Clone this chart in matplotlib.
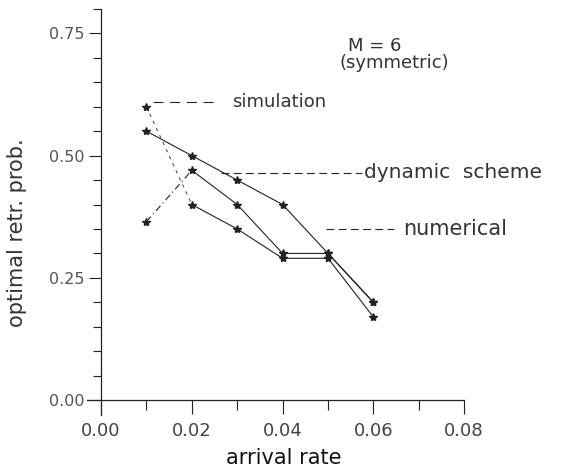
import numpy as np
import matplotlib
matplotlib.use("Agg")
import matplotlib.pyplot as plt
from matplotlib.ticker import MultipleLocator, FixedLocator

# values
rate = [0.01, 0.02, 0.03, 0.04, 0.05, 0.06]
dynamic = [0.55, 0.50, 0.45, 0.40, 0.30, 0.20]
numerical = [0.365, 0.47, 0.40, 0.30, 0.30, 0.20]
simulation = [0.60, 0.40, 0.35, 0.29, 0.29, 0.17]

x_ticks = [0.00, 0.02, 0.04, 0.06, 0.08]
x_ticklabels = ["0.00", "0.02", "0.04", "0.06", "0.08"]
y_ticks = [0.00, 0.25, 0.50, 0.75]
y_ticklabels = ["0.00", "0.25", "0.50", "0.75"]

ink = "#222222"
txt = "#333333"

fig = plt.figure(figsize=(5.64, 4.74), dpi=100)
ax = fig.add_axes([0.155, 0.125, 0.668, 0.856])
ax.set_xlim(-0.003, 0.08)
ax.set_ylim(-0.03, 0.80)

for s in ["top", "right"]:
	ax.spines[s].set_visible(False)
ax.spines["left"].set_position(("data", 0))
ax.spines["bottom"].set_position(("data", 0))
for s in ["left", "bottom"]:
	ax.spines[s].set_linewidth(0.9)
	ax.spines[s].set_color(ink)

ax.xaxis.set_major_locator(FixedLocator(x_ticks))
ax.set_xticklabels(x_ticklabels)
ax.xaxis.set_minor_locator(MultipleLocator(0.01))
ax.yaxis.set_major_locator(FixedLocator(y_ticks))
ax.set_yticklabels(y_ticklabels)
ax.yaxis.set_minor_locator(MultipleLocator(0.05))

ax.tick_params(axis="x", which="major", direction="out", length=10, width=0.8, pad=6,
	labelsize=13, colors=ink, labelcolor="#444444")
ax.tick_params(axis="x", which="minor", direction="out", length=7, width=0.8, colors=ink)
ax.tick_params(axis="y", which="major", direction="out", length=9, width=0.8, pad=3,
	labelsize=11.5, colors=ink, labelcolor="#555555")
ax.tick_params(axis="y", which="minor", direction="out", length=6, width=0.8, colors=ink)

# curves: first segment drawn in its own dash style, rest solid
lw = 0.8
ax.plot(rate, dynamic, color=ink, lw=lw, marker="*", ms=6)
ax.plot(rate[:2], numerical[:2], color=ink, lw=lw, ls=(0, (6, 3, 1, 3)))
ax.plot(rate[1:], numerical[1:], color=ink, lw=lw)
ax.plot(rate, numerical, color=ink, lw=0, marker="*", ms=6)
ax.plot(rate[:2], simulation[:2], color="#555555", lw=lw, ls=(0, (3, 4)))
ax.plot(rate[1:], simulation[1:], color=ink, lw=lw)
ax.plot(rate, simulation, color=ink, lw=0, marker="*", ms=6)

# leader lines and labels
ax.plot([0.0115, 0.025], [0.61, 0.61], color=ink, lw=0.8, ls=(0, (9, 6)))
ax.text(0.0288, 0.61, "simulation", fontsize=13, color=txt, va="center", ha="left")
ax.plot([0.0265, 0.0575], [0.465, 0.465], color=ink, lw=0.8, ls=(0, (7, 4)))
ax.text(0.0580, 0.465, "dynamic  scheme", fontsize=14.5, color=txt, va="center", ha="left")
ax.plot([0.0495, 0.0645], [0.35, 0.35], color=ink, lw=0.8, ls=(0, (7, 4)))
ax.text(0.0665, 0.35, "numerical", fontsize=15, color=txt, va="center", ha="left")

ax.text(0.0543, 0.724, "M = 6", fontsize=13, color=txt, va="center", ha="left")
ax.text(0.0526, 0.690, "(symmetric)", fontsize=13, color=txt, va="center", ha="left")

ax.set_xlabel("arrival rate", fontsize=15, color="#111111")
ax.xaxis.set_label_coords(0.52, -0.083)
ax.set_ylabel("optimal retr. prob.", fontsize=15, color=txt)
ax.yaxis.set_label_coords(-0.16, 0.449)

fig.savefig("out.png", dpi=100)
